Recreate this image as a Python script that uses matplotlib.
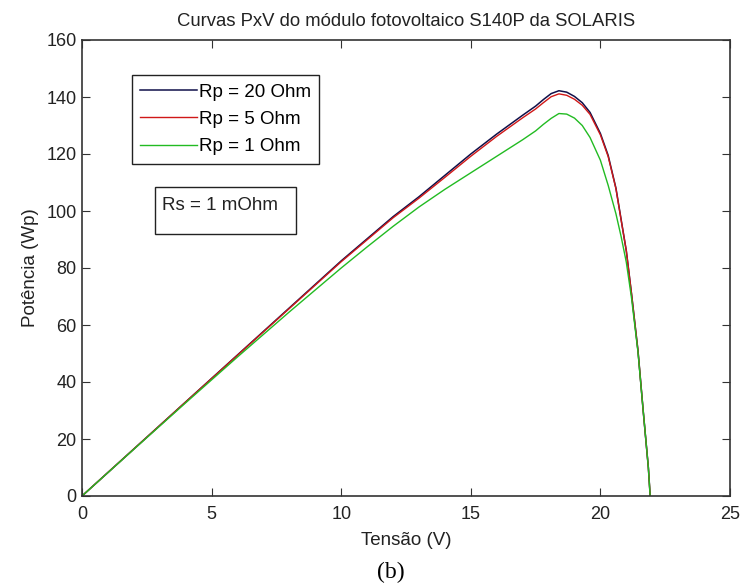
import matplotlib
matplotlib.use("Agg")
import matplotlib.pyplot as plt
from matplotlib.patches import Rectangle

plt.rcParams['font.family'] = ['Liberation Sans', 'DejaVu Sans']

# curvas P x V lidas para cada Rp (Rs = 1 mOhm)
v_20 = [0, 2, 4, 6, 8, 10, 12, 13, 14, 15, 16, 17, 17.5, 17.8, 18.1, 18.4, 18.7, 19.0, 19.3, 19.6,
        20, 20.3, 20.6, 20.8, 21.0, 21.2, 21.45, 21.65, 21.85, 21.92]
p_20 = [0, 16.5, 33, 49.5, 66, 82.5, 98, 105, 112.5, 120, 127, 133.6, 136.8, 139.1, 141.2, 142.2, 141.7, 140.2, 138.0, 134.6,
        127.2, 119.5, 108, 97, 86, 71, 51, 30, 10, 0]

v_5 = [0, 2, 4, 6, 8, 10, 12, 13, 14, 15, 16, 17, 17.5, 17.8, 18.1, 18.4, 18.7, 19.0, 19.3, 19.6,
       20, 20.3, 20.6, 20.8, 21.0, 21.2, 21.45, 21.65, 21.85, 21.92]
p_5 = [0, 16.5, 33, 49.4, 65.8, 82.2, 97.6, 104.5, 111.8, 119.2, 126.2, 132.7, 135.8, 138.0, 140.1, 141.1, 140.6, 139.2, 137.1, 133.9,
       126.7, 119.1, 107.8, 96.8, 86, 71, 51, 30, 10, 0]

v_1 = [0, 2, 4, 6, 8, 10, 11, 12, 13, 14, 15, 16, 17, 17.5, 17.8, 18.1, 18.4, 18.7, 19.0, 19.3, 19.6,
       20, 20.3, 20.6, 20.8, 21.0, 21.2, 21.45, 21.65, 21.85, 21.92]
p_1 = [0, 16.4, 32.7, 48.8, 64.6, 80, 87.4, 94.6, 101.4, 107.6, 113.4, 119.2, 125, 128.1, 130.4, 132.5, 134.2, 134.0, 132.6, 130.0, 125.8,
       117.8, 109, 99, 91, 82, 69.5, 50.5, 30, 10, 0]

fig = plt.figure(figsize=(7.4, 5.85), dpi=100)
ax = fig.add_axes([82 / 740, 1 - 496 / 585, 648 / 740, 456 / 585])

ax.plot(v_20, p_20, color='#10104a', lw=1.1, label='Rp = 20 Ohm')
ax.plot(v_5, p_5, color='#d01818', lw=1.0, label='Rp = 5 Ohm')
ax.plot(v_1, p_1, color='#22bb22', lw=1.0, label='Rp = 1 Ohm')

ax.set_xlim(0, 25)
ax.set_ylim(0, 160)
ax.set_xticks([0, 5, 10, 15, 20, 25])
ax.set_yticks(range(0, 161, 20))
ax.tick_params(direction='in', top=True, right=True, labelsize=13, length=6,
               color='#333333', labelcolor='#222222')
ax.tick_params(axis='x', pad=7)
ax.tick_params(axis='y', pad=4)
for s in ax.spines.values():
    s.set_color('#333333')
    s.set_linewidth(1.2)

ax.set_title('Curvas PxV do módulo fotovoltaico S140P da SOLARIS', fontsize=13.3,
             color='#222222', pad=10)
ax.set_xlabel('Tensão (V)', fontsize=13.5, color='#222222', labelpad=7)
ax.set_ylabel('Potência (Wp)', fontsize=13.5, color='#222222', labelpad=5)

leg = ax.legend(loc='upper left', bbox_to_anchor=(132 / 740, 1 - 75 / 585),
                bbox_transform=fig.transFigure, borderaxespad=0, fancybox=False,
                edgecolor='#222222', framealpha=1, fontsize=13.5, handlelength=3.0,
                handletextpad=0.1, labelspacing=0.55, borderpad=0.45)
leg.get_frame().set_linewidth(1.0)

# caixa de texto com Rs
fig.patches.append(Rectangle((155 / 740, 1 - 234 / 585), 141 / 740, 47 / 585,
                             transform=fig.transFigure, fill=False,
                             edgecolor='#222222', lw=1.0))
fig.text(162 / 740, 1 - 205 / 585, 'Rs = 1 mOhm', fontsize=13.5, color='#222222',
         va='center', ha='left')

fig.text(391 / 740, 1 - 572 / 585, '(b)', fontsize=17, family='Liberation Serif',
         ha='center', va='center')

fig.savefig('out.png', dpi=100)
